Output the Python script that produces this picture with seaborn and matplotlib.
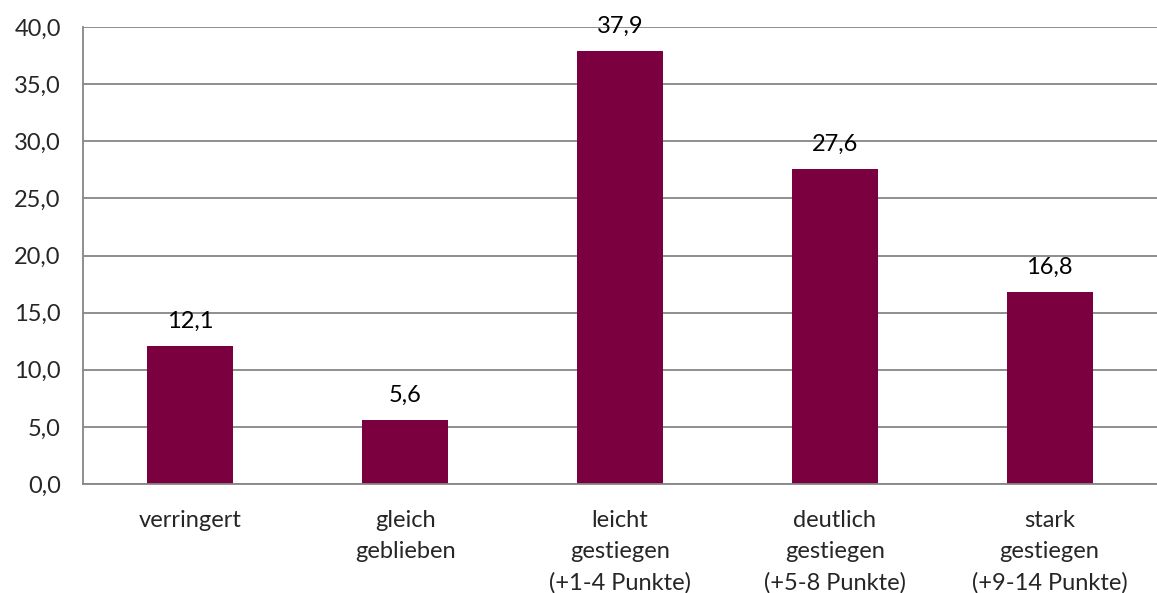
import matplotlib
matplotlib.use("Agg")
import matplotlib.pyplot as plt
import seaborn as sns
import pandas as pd
import numpy as np

categories = ["verringert", "gleich\ngeblieben", "leicht\ngestiegen\n(+1-4 Punkte)",
              "deutlich\ngestiegen\n(+5-8 Punkte)", "stark\ngestiegen\n(+9-14 Punkte)"]
values = [12.1, 5.6, 37.9, 27.6, 16.8]
yticks = [0, 5, 10, 15, 20, 25, 30, 35, 40]

sns.set_theme(style="white")
plt.rcParams['font.family'] = ['Lato', 'DejaVu Sans']

W, H = 1157, 593
fig = plt.figure(figsize=(W/100, H/100), dpi=100)
ax = fig.add_axes([83/W, 1-484/H, (1157-83)/W, (484-27)/H])

df = pd.DataFrame({"cat": categories, "val": values})
sns.barplot(data=df, x="cat", y="val", color="#7B003F", saturation=1, width=0.4, ax=ax,
            linewidth=0)

FS = 17
ax.set_ylim(0, 40)
ax.set_xlim(-0.5, 4.41)
ax.set_yticks(yticks)
ax.set_yticklabels([f"{v:.1f}".replace(".", ",") for v in yticks], fontsize=FS)
ax.yaxis.grid(True, color="#868686", linewidth=1.3)
ax.set_axisbelow(True)
ax.set_xlabel("")
ax.set_ylabel("")
ax.tick_params(axis="x", which="major", length=0, pad=19, labelsize=FS)
ax.set_xticks(np.arange(-0.5, 5, 1), minor=True)
ax.tick_params(axis="x", which="minor", length=7, color="#868686", width=1.3, direction="out")
ax.tick_params(axis="y", length=7, color="#868686", width=1.3, direction="out", pad=9)
for lbl in ax.get_xticklabels():
    lbl.set_linespacing(1.58)
for s in ["top", "right"]:
    ax.spines[s].set_visible(False)
for s in ["left", "bottom"]:
    ax.spines[s].set_color("#868686")
    ax.spines[s].set_linewidth(1.3)

for i, v in enumerate(values):
    ax.annotate(f"{v:.1f}".replace(".", ","), (i, v), xytext=(0, 10), textcoords="offset points",
                ha="center", va="bottom", fontsize=FS, color="black")

fig.savefig("out.png", dpi=100)
